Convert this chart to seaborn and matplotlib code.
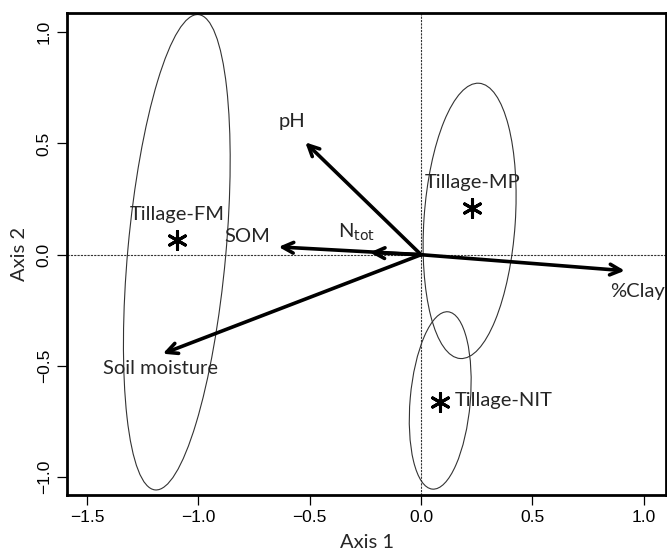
import numpy as np
import pandas as pd
import matplotlib
matplotlib.use("Agg")
import matplotlib.pyplot as plt
from matplotlib.patches import Ellipse
import seaborn as sns

# ---- data ----
vec_names = ["pH", "SOM", "N$_{\\mathrm{tot}}$", "Soil moisture", "%Clay"]
vec_x = [-0.52, -0.64, -0.23, -1.16, 0.915]
vec_y = [0.505, 0.035, 0.01, -0.445, -0.072]
vec_lab_x = [-0.58, -0.78, -0.29, -1.17, 0.97]
vec_lab_y = [0.60, 0.08, 0.10, -0.51, -0.165]

groups = ["Tillage-FM", "Tillage-MP", "Tillage-NIT"]
cent_x = [-1.095, 0.23, 0.085]
cent_y = [0.068, 0.21, -0.66]
glab_x = [-1.095, 0.23, 0.153]
glab_y = [0.18, 0.325, -0.655]

ell_cx = [-1.097, 0.218, 0.086]
ell_cy = [0.011, 0.152, -0.655]
ell_w = [0.44, 0.41, 0.27]      # minor axis
ell_h = [2.145, 1.24, 0.80]     # major axis
ell_ang = [-5.2, -3.9, -5.0]    # tilt from vertical (deg)

sns.set_theme(style="ticks")
plt.rcParams["font.family"] = ["Liberation Sans", "DejaVu Sans"]

fig = plt.figure(figsize=(6.67, 5.51), dpi=100)
ax = fig.add_axes([0.1005, 0.1016, 0.898, 0.8743])

df = pd.DataFrame({"x": cent_x, "y": cent_y, "g": groups})
sns.scatterplot(data=df, x="x", y="y", marker=(6, 2, 0), s=170,
                color="black", linewidth=2.2, ax=ax, legend=False, zorder=5)

for cx, cy, w, h, a in zip(ell_cx, ell_cy, ell_w, ell_h, ell_ang):
    ax.add_patch(Ellipse((cx, cy), w, h, angle=a, fill=False,
                         edgecolor="#333333", linewidth=0.8, zorder=2))

ax.axhline(0, color="#333333", linestyle=(0, (2, 1)), linewidth=0.8, zorder=1)
ax.axvline(0, color="#333333", linestyle=(0, (2, 1)), linewidth=0.8, zorder=1)

for x, y in zip(vec_x, vec_y):
    ax.annotate("", xy=(x, y), xytext=(0, 0),
                arrowprops=dict(arrowstyle="->,head_length=0.65,head_width=0.32",
                                color="black", lw=2.6, shrinkA=0, shrinkB=0),
                zorder=4)

lab_font = ["Lato", "DejaVu Sans"]
for n, x, y in zip(vec_names, vec_lab_x, vec_lab_y):
    ax.text(x, y, n, ha="center", va="center", fontsize=14.5, family=lab_font)

for g, x, y, ha in zip(groups, glab_x, glab_y, ["center", "center", "left"]):
    ax.text(x, y, g, ha=ha, va="center", fontsize=14.5, family=lab_font)

ax.set_xlim(-1.59, 1.1)
ax.set_ylim(-1.08, 1.085)
ax.set_xticks([-1.5, -1.0, -0.5, 0.0, 0.5, 1.0])
ax.set_yticks([-1.0, -0.5, 0.0, 0.5, 1.0])
ax.set_xticklabels(["\u22121.5", "\u22121.0", "\u22120.5", "0.0", "0.5", "1.0"])
ax.set_yticklabels(["\u22121.0", "\u22120.5", "0.0", "0.5", "1.0"],
                   rotation=90, va="center")
ax.tick_params(axis="both", direction="out", length=7, width=0.9,
               labelsize=12.5, colors="black", pad=4)
ax.set_xlabel("Axis 1", fontsize=14.5, family=lab_font, labelpad=6)
ax.set_ylabel("Axis 2", fontsize=14.5, family=lab_font, labelpad=6)
for s in ax.spines.values():
    s.set_visible(True)
    s.set_linewidth(2.0)
    s.set_color("black")
ax.set_facecolor("white")
fig.patch.set_facecolor("white")

fig.savefig("out.png", dpi=100)
